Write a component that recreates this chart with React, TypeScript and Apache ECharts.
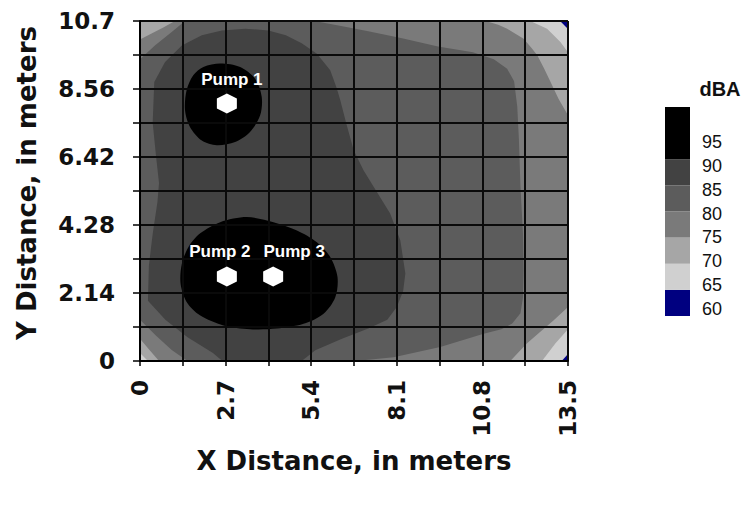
import React, { useEffect, useRef } from "react";
import * as echarts from "echarts";

// ---------- axes ----------
const xMin = 0;
const xMax = 13.5;
const xStep = 1.35;
const yMin = 0;
const yMax = 10.7;
const yStep = 1.07;
const xTickLabels = [0, 2.7, 5.4, 8.1, 10.8, 13.5];
const yTickLabels = [0, 2.14, 4.28, 6.42, 8.56, 10.7];
const xTitle = "X Distance, in meters";
const yTitle = "Y Distance, in meters";

// ---------- pumps ----------
const pumpNames = ["Pump 1", "Pump 2", "Pump 3"];
const pumpX = [2.74, 2.74, 4.2];
const pumpY = [8.1, 2.66, 2.66];

// ---------- legend (dBA bands) ----------
const legendTitle = "dBA";
const legendBandLow = [60, 65, 70, 75, 80, 85, 90];
const legendBandHigh = [65, 70, 75, 80, 85, 90, 100];
const legendTickLabels = [60, 65, 70, 75, 80, 85, 90, 95];

// ---------- contour regions (lower band edge, dBA) : [x, y] in meters ----------
const region75All = [[0, 0], [13.5, 0], [13.5, 10.7], [0, 10.7]];
const region70TopLeft = [[0, 10.7], [1.1, 10.7], [0.75, 10.5], [0.35, 10.3], [0, 10.12]];
const region70TopRight = [[10.9, 10.7], [11.3, 10.58], [11.58, 10.46], [12.1, 10.14], [12.35, 9.85], [12.53, 9.62], [12.75, 9.2], [12.95, 8.78], [13.2, 8.25], [13.5, 7.73], [13.5, 10.7]];
const region70BottomLeft = [[0, 0], [0.6, 0], [0.3, 0.35], [0, 0.7]];
const region70BottomRight = [[11.68, 0], [12.2, 0.55], [12.6, 0.9], [13.05, 1.28], [13.5, 1.7], [13.5, 0]];
const region65TopRight = [[12.31, 10.7], [12.84, 10.46], [13.26, 10.04], [13.5, 9.72], [13.5, 10.7]];
const region65BottomRight = [[12.68, 0], [13.1, 0.55], [13.5, 1.0], [13.5, 0]];
const region65BottomLeft = [[0, 0], [0.25, 0], [0, 0.25]];
const region60TopRight = [[13.25, 10.7], [13.5, 10.7], [13.5, 10.45]];
const region60BottomRight = [[13.3, 0], [13.5, 0], [13.5, 0.22]];
const region80 = [
  [0, 1.3], [0.5, 0.8], [1.0, 0.35], [1.5, 0], [6.8, 0], [8.0, 0.12], [9.47, 0.44], [10.84, 0.86],
  [11.4, 1.0], [11.74, 1.18], [12.0, 1.5], [12.08, 2.0], [12.1, 2.85], [12.08, 4.0], [12.0, 5.5],
  [11.95, 7.0], [11.9, 8.0], [11.8, 8.8], [11.58, 9.2], [11.16, 9.5], [10.5, 9.72], [9.4, 9.9],
  [8.3, 10.15], [7.2, 10.38], [6.3, 10.55], [5.5, 10.7], [1.42, 10.7], [1.0, 10.35], [0.47, 9.93], [0, 9.5],
];
const region85 = [
  [0.45, 8.78], [0.79, 9.41], [1.32, 9.93], [1.95, 10.25], [2.58, 10.4], [3.32, 10.46], [4.05, 10.4],
  [4.6, 10.25], [5.1, 10.0], [5.58, 9.67], [6.0, 9.15], [6.2, 8.6], [6.32, 8.2], [6.5, 7.5], [6.74, 6.63],
  [7.05, 6.0], [7.37, 5.48], [7.89, 4.64], [8.21, 3.8], [8.37, 2.75], [8.3, 2.2], [8.1, 1.7], [7.8, 1.3],
  [7.2, 1.02], [6.37, 0.7], [5.53, 0.34], [5.1, 0], [2.6, 0], [2.3, 0.25], [1.5, 0.75], [0.8, 1.3],
  [0.25, 1.9], [0.28, 3.0], [0.4, 4.0], [0.55, 5.0], [0.6, 5.6], [0.5, 6.5], [0.4, 7.5],
];
const region90Pump1 = [
  [2.53, 9.36], [3.16, 9.25], [3.63, 8.88], [3.84, 8.31], [3.79, 7.73], [3.47, 7.21], [3.0, 6.89],
  [2.42, 6.79], [1.95, 6.94], [1.58, 7.36], [1.42, 7.89], [1.47, 8.52], [1.68, 8.99], [2.0, 9.25],
];
const region90Pumps23 = [
  [3.37, 4.53], [4.21, 4.37], [4.95, 4.11], [5.58, 3.74], [6.0, 3.27], [6.23, 2.64], [6.16, 2.01],
  [5.79, 1.49], [5.16, 1.17], [4.31, 1.02], [3.47, 1.0], [2.63, 1.12], [1.89, 1.44], [1.47, 1.86],
  [1.28, 2.43], [1.32, 3.06], [1.53, 3.59], [1.89, 4.01], [2.53, 4.37],
];

// paint order: outer bands first, pump blobs last
const regions: { level: number; points: number[][]; smooth: number }[] = [
  { level: 75, points: region75All, smooth: 0 },
  { level: 70, points: region70TopLeft, smooth: 0 },
  { level: 70, points: region70TopRight, smooth: 0 },
  { level: 70, points: region70BottomLeft, smooth: 0 },
  { level: 70, points: region70BottomRight, smooth: 0 },
  { level: 65, points: region65TopRight, smooth: 0 },
  { level: 65, points: region65BottomRight, smooth: 0 },
  { level: 65, points: region65BottomLeft, smooth: 0 },
  { level: 60, points: region60TopRight, smooth: 0 },
  { level: 60, points: region60BottomRight, smooth: 0 },
  { level: 80, points: region80, smooth: 0 },
  { level: 85, points: region85, smooth: 0 },
  { level: 90, points: region90Pump1, smooth: 0.3 },
  { level: 90, points: region90Pumps23, smooth: 0.3 },
];

// ---------- styles ----------
const levelColor: Record<number, string> = {
  60: "#000080",
  65: "#d0d0d0",
  70: "#a6a6a6",
  75: "#7a7a7a",
  80: "#5c5c5c",
  85: "#424242",
  90: "#000000",
};
const pumpLabelOffset = [[5, 0], [-7, 0], [21, 0]];
const axisFont = "DejaVu Sans";
const labelFont = "Liberation Sans";
const hexPath = "path://M0,-1L0.866,-0.5L0.866,0.5L0,1L-0.866,0.5L-0.866,-0.5Z";

const isLabel = (v: number, list: number[]) => list.some((t) => Math.abs(t - v) < 1e-6);

export default function App() {
  const ref = useRef<HTMLDivElement>(null);

  useEffect(() => {
    if (!ref.current) return;
    const chart = echarts.init(ref.current, null, { renderer: "svg" });

    const option: any = {
      animation: false,
      backgroundColor: "#ffffff",
      title: {
        text: legendTitle,
        left: 715,
        top: 74,
        textAlign: "center",
        textStyle: { fontFamily: labelFont, fontWeight: "bold", fontSize: 20, color: "#111" },
      },
      grid: [
        { left: 140, top: 21, right: 174, bottom: 149, containLabel: false },
        { left: 665, top: 107, width: 25, height: 209, containLabel: false },
      ],
      xAxis: [
        {
          type: "value",
          gridIndex: 0,
          min: xMin,
          max: xMax,
          interval: xStep,
          z: 5,
          name: xTitle,
          nameLocation: "middle",
          nameGap: 87,
          nameTextStyle: { fontFamily: axisFont, fontWeight: "bold", fontSize: 26, color: "#111" },
          axisLine: { show: true, lineStyle: { color: "#000", width: 2 } },
          axisTick: { show: true, length: 5, lineStyle: { color: "#000", width: 1.5 } },
          splitLine: { show: true, lineStyle: { color: "#0a0a0a", width: 2 } },
          axisLabel: {
            rotate: 90,
            margin: 19,
            fontFamily: axisFont,
            fontWeight: "bold",
            fontSize: 23,
            color: "#111",
            formatter: (v: number) => (isLabel(v, xTickLabels) ? String(+v.toFixed(2)) : ""),
          },
        },
        { type: "value", gridIndex: 1, min: 0, max: 1, show: false },
      ],
      yAxis: [
        {
          type: "value",
          gridIndex: 0,
          min: yMin,
          max: yMax,
          interval: yStep,
          z: 5,
          name: yTitle,
          nameLocation: "middle",
          nameGap: 100,
          nameTextStyle: {
            fontFamily: axisFont,
            fontWeight: "bold",
            fontSize: 26,
            color: "#111",
            padding: [0, 0, 0, 16],
          },
          axisLine: { show: true, lineStyle: { color: "#000", width: 2 } },
          axisTick: { show: true, length: 7, lineStyle: { color: "#000", width: 1.5 } },
          splitLine: { show: true, lineStyle: { color: "#0a0a0a", width: 2 } },
          axisLabel: {
            margin: 25,
            fontFamily: axisFont,
            fontWeight: "bold",
            fontSize: 23,
            color: "#111",
            formatter: (v: number) => (isLabel(v, yTickLabels) ? String(+v.toFixed(2)) : ""),
          },
        },
        { type: "value", gridIndex: 1, min: 60, max: 100, show: false },
        {
          type: "value",
          gridIndex: 1,
          position: "right",
          min: 58.6,
          max: 102.25,
          axisLine: { show: false },
          axisTick: { show: false },
          splitLine: { show: false },
          axisLabel: {
            show: true,
            customValues: legendTickLabels,
            margin: 12,
            fontFamily: labelFont,
            fontSize: 18,
            color: "#111",
          },
        },
      ],
      series: [
        {
          type: "custom",
          xAxisIndex: 0,
          yAxisIndex: 0,
          z: 2,
          silent: true,
          data: regions.map((r, i) => [i, r.level]),
          encode: { x: -1, y: -1 },
          renderItem: (params: any, api: any) => {
            const r = regions[params.dataIndex];
            const pts = r.points.map((p) => api.coord(p));
            return {
              type: "polygon",
              shape: { points: pts, smooth: r.smooth },
              style: { fill: levelColor[r.level], stroke: null },
            };
          },
        },
        {
          type: "custom",
          xAxisIndex: 1,
          yAxisIndex: 1,
          silent: true,
          data: legendBandLow.map((lo, i) => [lo, legendBandHigh[i]]),
          encode: { x: -1, y: -1 },
          renderItem: (params: any, api: any) => {
            const lo = legendBandLow[params.dataIndex];
            const hi = legendBandHigh[params.dataIndex];
            const p1 = api.coord([0, hi]);
            const p2 = api.coord([1, lo]);
            return {
              type: "rect",
              shape: { x: p1[0], y: p1[1], width: p2[0] - p1[0], height: p2[1] - p1[1] },
              style: { fill: levelColor[lo], stroke: null },
            };
          },
        },
        {
          type: "scatter",
          xAxisIndex: 0,
          yAxisIndex: 0,
          z: 10,
          symbol: hexPath,
          symbolSize: [20, 20],
          symbolKeepAspect: false,
          itemStyle: { color: "#ffffff", opacity: 1 },
          data: pumpNames.map((n, i) => ({
            name: n,
            value: [pumpX[i], pumpY[i]],
            label: { offset: pumpLabelOffset[i] },
          })),
          label: {
            show: true,
            position: "top",
            distance: 6,
            formatter: (p: any) => p.name,
            fontFamily: labelFont,
            fontWeight: "bold",
            fontSize: 17,
            color: "#ffffff",
          },
        },
      ],
    };

    chart.setOption(option);
    return () => chart.dispose();
  }, []);

  return (
    <div
      ref={ref}
      style={{ position: "absolute", left: 0, top: 0, width: 742, height: 510 }}
    />
  );
}
